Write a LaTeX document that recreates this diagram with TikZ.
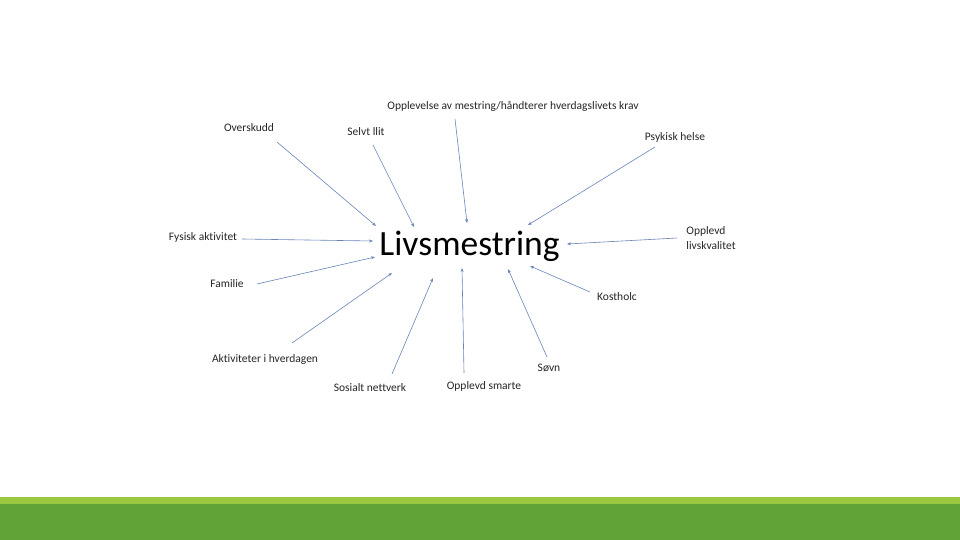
\documentclass[tikz,border=0pt]{standalone}
\usepackage{fontspec}
\setmainfont{Carlito}[Ligatures=NoCommon]
\usetikzlibrary{arrows.meta}
\definecolor{arr}{HTML}{6A84BA}
\definecolor{lightgreen}{HTML}{9BC83F}
\definecolor{darkgreen}{HTML}{62A338}
\tikzset{
  lbl/.style={inner sep=0pt, font=\fontsize{11.5}{15}\selectfont, text=black!85},
  conn/.style={draw=arr, line width=0.6pt, -{Stealth[length=4pt,width=3pt]}}
}
\begin{document}
\begin{tikzpicture}[x=1pt,y=-1pt]
\useasboundingbox (0,0) rectangle (960,540);
\fill[white] (0,0) rectangle (960,540);
\fill[lightgreen] (0,497) rectangle (960,504);
\fill[darkgreen] (0,504) rectangle (960,540);

\node[inner sep=0pt, font=\fontsize{35.5}{40}\selectfont] (center) at (469.5,246) {Livsmestring};

\node[lbl] (overskudd) at (249,128) {Overskudd};
\node[lbl] (selvt) at (366,132) {Selvt llit};
\node[lbl] (opplevelse) at (513,106) {Opplevelse av mestring/håndterer hverdagslivets krav};
\node[lbl] (psykisk) at (675,137) {Psykisk helse};
\node[lbl] (fysisk) at (203,237) {Fysisk aktivitet};
\node[lbl, align=left] (livskvalitet) at (711,238) {Opplevd\\livskvalitet};
\node[lbl] (familie) at (227,284) {Familie};
\node[lbl] (aktiviteter) at (265,359) {Aktiviteter i hverdagen};
\node[lbl] (sosialt) at (370,388) {Sosialt nettverk};
\node[lbl] (smarte) at (484,386) {Opplevd smarte};
\node[lbl] (sovn) at (549,368) {Søvn};
\node[lbl] (kosthold) at (617,297) {Kostholc};

\coordinate (t1) at (277,142); \coordinate (h1) at (376,226);
\coordinate (t2) at (373,145); \coordinate (h2) at (414,227);
\coordinate (t3) at (455,119); \coordinate (h3) at (467,223);
\coordinate (t4) at (242,239); \coordinate (h4) at (373,241);
\coordinate (t5) at (655,147); \coordinate (h5) at (528,225);
\coordinate (t6) at (677,238); \coordinate (h6) at (567,244);
\coordinate (t7) at (257,284); \coordinate (h7) at (375,257);
\coordinate (t8) at (292,343); \coordinate (h8) at (392,273);
\coordinate (t9) at (392,374); \coordinate (h9) at (433,278);
\coordinate (t10) at (464,373); \coordinate (h10) at (462,268);
\coordinate (t11) at (547,357); \coordinate (h11) at (508,269);
\coordinate (t12) at (590,292); \coordinate (h12) at (530,266);

\foreach \i in {1,...,12} {\draw[conn] (t\i) -- (h\i);}
\end{tikzpicture}
\end{document}
